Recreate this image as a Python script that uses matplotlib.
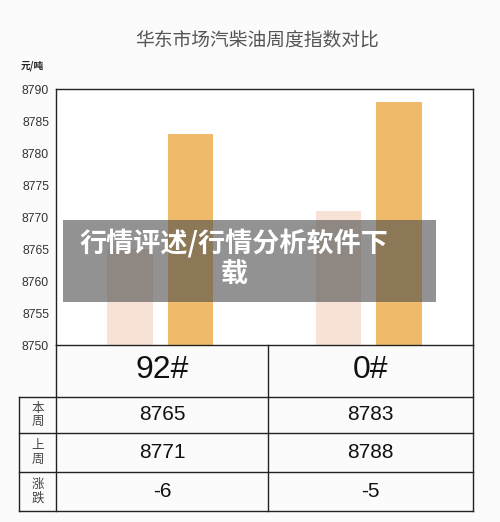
import numpy as np
import matplotlib.pyplot as plt

plt.rcParams['font.family'] = ['Liberation Sans', 'Noto Sans CJK SC', 'DejaVu Sans']

title = '华东市场汽柴油周度指数对比'
unit = '元/吨'
products = ['92#', '0#']
bar_light = [8765, 8771]    # pale bars as drawn
bar_dark = [8783, 8788]     # orange bars as drawn
row_labels = ['本\n周', '上\n周', '涨\n跌']
this_week = [8765, 8783]
last_week = [8771, 8788]
change = [-6, -5]
yticks = np.arange(8750, 8791, 5)
watermark = '行情评述/行情分析软件下\n载'

W, H = 500, 522
fig = plt.figure(figsize=(W / 100, H / 100), dpi=100)
fig.patch.set_facecolor('#fbfbfb')

def fx(px):
    return px / W

def fy(py):
    return 1 - py / H

# chart area
x0, x1, ytop, ybot = 56, 473, 89, 345
ax = fig.add_axes([fx(x0), fy(ybot), fx(x1 - x0), (ybot - ytop) / H])
ax.set_facecolor('white')
pos = np.array([0.5, 1.5])
w = 0.22
ax.bar(pos - 0.145, np.array(bar_light) - 8750, width=w, bottom=8750, color='#f8e2d8')
ax.bar(pos + 0.145, np.array(bar_dark) - 8750, width=w, bottom=8750, color='#efbb6b')
ax.set_xlim(0, 2)
ax.set_ylim(8750, 8790)
ax.set_yticks(yticks)
ax.set_yticklabels([str(t) for t in yticks], fontsize=8.8, color='#333333')
ax.tick_params(axis='y', length=0, pad=5)
ax.set_xticks([])
for s in ax.spines.values():
    s.set_color('#222222')
    s.set_linewidth(1.0)

# overlay for table / titles, in pixel coordinates
ov = fig.add_axes([0, 0, 1, 1], facecolor='none')
ov.set_xlim(0, W)
ov.set_ylim(H, 0)
ov.axis('off')

ov.text(257, 40, title, ha='center', va='center', fontsize=13.5, color='#555555',
        family=['Noto Sans CJK SC'])
ov.text(32, 66, unit, ha='center', va='center', fontsize=7, color='#222222',
        family=['Noto Sans CJK SC'], fontweight='bold')

lc = '#222222'
# header row
ov.plot([x0, x0], [ybot, 511], color=lc, lw=1.0)
ov.plot([268, 268], [ybot, 511], color=lc, lw=1.0)
ov.plot([x1, x1], [ybot, 511], color=lc, lw=1.0)
ov.plot([19, 19], [397, 511], color=lc, lw=1.0)
for yy in [397, 433, 472, 511]:
    ov.plot([19, x1], [yy, yy], color=lc, lw=1.0)

col_c = [162, 370]
for c, p in zip(col_c, products):
    ov.text(c, 370, p, ha='center', va='center', fontsize=23, color='#111111')

rows_y = [415, 452.5, 491.5]
rows = [this_week, last_week, change]
for ry, lab, vals in zip(rows_y, row_labels, rows):
    ov.text(37.5, ry, lab, ha='center', va='center', fontsize=9, color='#444444',
            family=['Noto Sans CJK SC'], linespacing=1.05)
    for c, v in zip(col_c, vals):
        ov.text(c, ry, str(v), ha='center', va='center', fontsize=15, color='#111111')

# watermark band
ov.add_patch(plt.Rectangle((63, 220), 373, 82, facecolor='#4a4a4a', alpha=0.6,
                           edgecolor='none'))
ov.text(234, 259, watermark, ha='center', va='center', fontsize=19.5, color='white',
        family=['Noto Sans CJK SC'], fontweight='bold', linespacing=1.15)

fig.savefig('out.png', dpi=100)
